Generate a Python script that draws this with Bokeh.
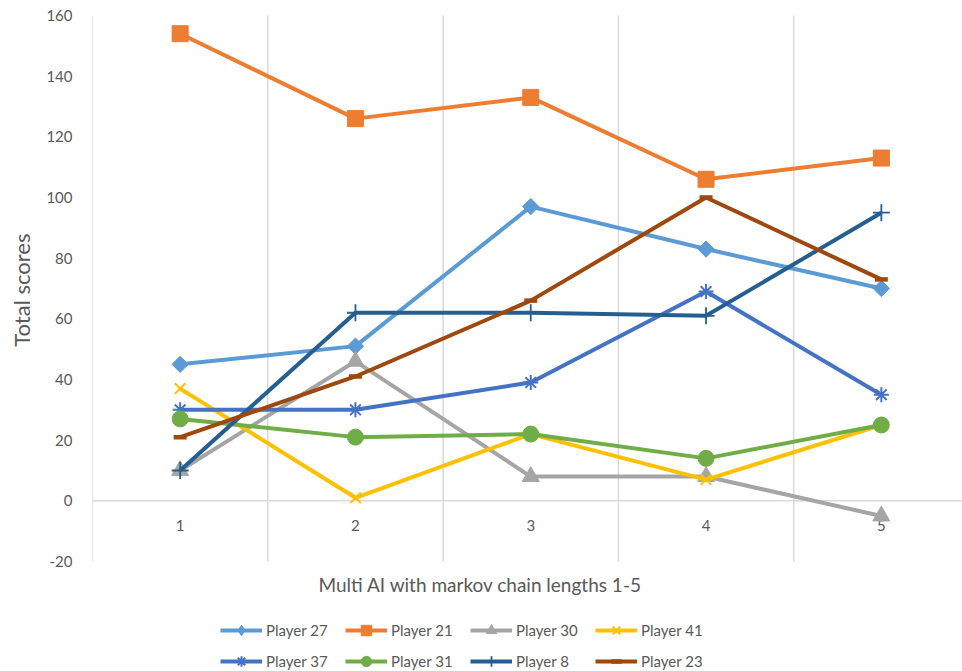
import numpy as np
from bokeh.plotting import figure
from bokeh.models import Range1d, FixedTicker, Legend, LegendItem, Title
from bokeh.core.properties import value
from bokeh.embed import file_html
from bokeh.resources import INLINE

# ---- data ----
categories = [1, 2, 3, 4, 5]
x_tick_labels = ["1", "2", "3", "4", "5"]
y_ticks = [-20, 0, 20, 40, 60, 80, 100, 120, 140, 160]
y_tick_labels = ["-20", "0", "20", "40", "60", "80", "100", "120", "140", "160"]
series_names = ["Player 27", "Player 21", "Player 30", "Player 41",
                "Player 37", "Player 31", "Player 8", "Player 23"]
player_27 = [45, 51, 97, 83, 70]
player_21 = [154, 126, 133, 106, 113]
player_30 = [10, 46, 8, 8, -5]
player_41 = [37, 1, 22, 7, 25]
player_37 = [30, 30, 39, 69, 35]
player_31 = [27, 21, 22, 14, 25]
player_8 = [10, 62, 62, 61, 95]
player_23 = [21, 41, 66, 100, 73]
series_values = [player_27, player_21, player_30, player_41,
                 player_37, player_31, player_8, player_23]
x_title = "Multi AI with markov chain lengths 1-5"
y_title = "Total scores"

# ---- styles ----
colors = ["#5B9BD5", "#ED7D31", "#A5A5A5", "#FFC000",
          "#4472C4", "#70AD47", "#255E91", "#9E480E"]
markers = ["square", "square", "triangle", "x", "asterisk", "circle", "cross", "dash"]
legend_markers = ["diamond", "square", "triangle", "x", "asterisk", "circle", "cross", "dash"]
angles = [np.pi / 4, 0, 0, 0, 0, 0, 0, 0]
sizes = [11.5, 16, 17, 15, 15, 16, 17, 13]
mlw = [1, 1, 1, 2, 2, 1, 1.8, 4.5]

FONT = "Lato"
TXT = "#595959"
GRID = "#D9D9D9"

W, H = 962, 671
LEFT = 92            # plot area left edge (px)
TOP, BOTTOM = 15, 561  # pixel rows of the top and bottom value ticks
px_per_y = (BOTTOM - TOP) / (y_ticks[-1] - y_ticks[0])
px_per_x = 175.3
x_lo = categories[0] - 0.5
x_hi = x_lo + (W - LEFT) / px_per_x
y_lo = y_ticks[0] - (H - BOTTOM) / px_per_y
y_hi = y_ticks[-1] + TOP / px_per_y

p = figure(width=W, height=H, output_backend="svg", toolbar_location=None,
           x_range=Range1d(x_lo, x_hi), y_range=Range1d(y_lo, y_hi),
           x_axis_location=None,
           min_border_left=LEFT, min_border_right=0, min_border_top=0, min_border_bottom=0)
p.outline_line_color = None
p.grid.grid_line_color = None
p.background_fill_color = "white"
p.border_fill_color = "white"

# y axis
p.yaxis.ticker = FixedTicker(ticks=y_ticks)
p.yaxis.major_label_overrides = dict(zip(y_ticks, y_tick_labels))
p.yaxis.axis_line_color = None
p.yaxis.major_tick_line_color = None
p.yaxis.minor_tick_line_color = None
p.yaxis.major_label_standoff = 14
p.yaxis.major_label_text_font = FONT
p.yaxis.major_label_text_font_size = "15px"
p.yaxis.major_label_text_color = TXT

ytitle = Title(text=y_title, align="right", offset=233, vertical_align="top",
               text_font=FONT, text_font_size="22px", text_color=TXT,
               text_font_style="normal", standoff=14)
p.add_layout(ytitle, "left")

# vertical gridlines between categories, spanning the value range
bounds = [c - 0.5 for c in categories] + [categories[-1] + 0.5]
p.segment(x0=bounds, y0=[y_ticks[0]] * len(bounds), x1=bounds, y1=[y_ticks[-1]] * len(bounds),
          line_color=GRID, line_width=1.5)
# horizontal axis line at zero
p.segment(x0=[bounds[0]], y0=[0], x1=[x_hi], y1=[0], line_color=GRID, line_width=1.5)

# category labels next to the zero line
p.text(x=categories, y=[0] * len(categories), text=x_tick_labels, y_offset=25,
       text_align="center", text_baseline="middle", text_font=value(FONT),
       text_font_size="15px", text_color=TXT)
# x axis title
p.text(x=[bounds[0]], y=[y_ticks[0]], text=[x_title], x_offset=226, y_offset=23,
       text_align="left", text_baseline="middle", text_font=value(FONT),
       text_font_size="19px", text_color=TXT)

items = []
for name, vals, c, m, lm, a, s, lw in zip(series_names, series_values, colors, markers,
                                          legend_markers, angles, sizes, mlw):
    lr = p.line(categories, vals, line_color=c, line_width=4, line_join="round")
    sr = p.scatter(categories, vals, marker=m, angle=a, size=s,
                   fill_color=c, line_color=c, line_width=lw)
    if lm != m:
        # legend swatch only (the plotted marker is a rotated square)
        sr = p.scatter(categories, vals, marker=lm, size=s, fill_color=c,
                       line_color=c, line_width=lw, visible=False)
    items.append(LegendItem(label=name, renderers=[lr, sr]))

common = dict(orientation="horizontal", glyph_width=42, glyph_height=26,
              label_height=26, label_width=62, label_standoff=4, spacing=17,
              padding=0, margin=0, border_line_color=None, background_fill_alpha=0,
              inactive_fill_alpha=0,
              label_text_font=FONT, label_text_font_size="15px", label_text_color=TXT)
leg1 = Legend(items=items[:4], location=(128, 28), **common)
leg2 = Legend(items=items[4:], location=(128, -3), **common)
p.add_layout(leg1, "center")
p.add_layout(leg2, "center")

open("out.html", "w").write(file_html(p, INLINE))
